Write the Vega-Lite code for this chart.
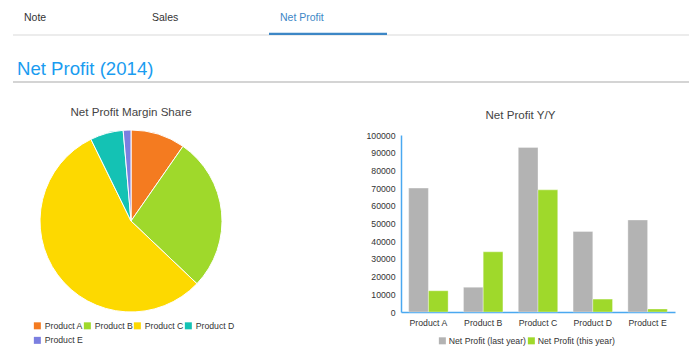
{
  "$schema": "https://vega.github.io/schema/vega-lite/v6.json",
  "padding": {"left": 12, "top": 0, "right": 0, "bottom": 0},
  "background": "#ffffff",
  "config": {
    "font": "Liberation Sans",
    "view": {"stroke": null},
    "axis": {"grid": false},
    "title": {"font": "Liberation Sans", "fontWeight": "normal", "fontSize": 11.6, "color": "#444444"}
  },
  "datasets": {
    "tabs": [
      {"tab": "Note", "state": "inactive"},
      {"tab": "Sales", "state": "inactive"},
      {"tab": "Net Profit", "state": "active"}
    ],
    "heading": [{"heading": "Net Profit (2014)"}],
    "profit": [
      {"product": "Product A", "period": "Net Profit (last year)", "profit": 70000},
      {"product": "Product A", "period": "Net Profit (this year)", "profit": 12000},
      {"product": "Product B", "period": "Net Profit (last year)", "profit": 14000},
      {"product": "Product B", "period": "Net Profit (this year)", "profit": 34000},
      {"product": "Product C", "period": "Net Profit (last year)", "profit": 93000},
      {"product": "Product C", "period": "Net Profit (this year)", "profit": 69000},
      {"product": "Product D", "period": "Net Profit (last year)", "profit": 45500},
      {"product": "Product D", "period": "Net Profit (this year)", "profit": 7300},
      {"product": "Product E", "period": "Net Profit (last year)", "profit": 52000},
      {"product": "Product E", "period": "Net Profit (this year)", "profit": 1700}
    ]
  },
  "resolve": {"scale": {"color": "independent"}, "legend": {"color": "independent"}},
  "spacing": 24,
  "vconcat": [
    {
      "spacing": 19,
      "vconcat": [
        {
          "width": 677,
          "height": 35,
          "data": {"name": "tabs"},
          "layer": [
            {
              "transform": [{"filter": "datum.state == 'active'"}],
              "mark": {"type": "rule", "color": "#d9d9d9", "strokeWidth": 1},
              "encoding": {
                "y": {"datum": 0, "type": "quantitative", "scale": {"domain": [0, 1]}, "axis": null}
              }
            },
            {
              "transform": [{"filter": "datum.state == 'active'"}],
              "mark": {"type": "bar", "color": "#3d87c6"},
              "encoding": {
                "x": {"field": "tab", "type": "nominal", "sort": null,
                      "scale": {"domain": ["Note", "Sales", "Net Profit"], "range": [0, 374], "paddingInner": 0.078125, "paddingOuter": 0},
                      "axis": null},
                "y": {"datum": 0, "type": "quantitative"},
                "y2": {"datum": 0.065}
              }
            },
            {
              "transform": [{"filter": "datum.state == 'inactive'"}],
              "mark": {"type": "text", "align": "left", "dx": 11, "fontSize": 10.5, "color": "#333333"},
              "encoding": {
                "x": {"field": "tab", "type": "nominal", "bandPosition": 0},
                "text": {"field": "tab"}
              }
            },
            {
              "transform": [{"filter": "datum.state == 'active'"}],
              "mark": {"type": "text", "align": "left", "dx": 11, "fontSize": 10.5, "color": "#3d87c6"},
              "encoding": {
                "x": {"field": "tab", "type": "nominal", "bandPosition": 0},
                "text": {"field": "tab"}
              }
            }
          ]
        },
        {
          "width": 677,
          "height": 27,
          "data": {"name": "heading"},
          "layer": [
            {
              "mark": {"type": "rule", "color": "#d4d4d4", "strokeWidth": 2},
              "encoding": {
                "y": {"datum": 0, "type": "quantitative", "scale": {"domain": [0, 1]}, "axis": null}
              }
            },
            {
              "mark": {"type": "text", "align": "left", "dx": 4, "fontSize": 18.6, "color": "#1a9cf0"},
              "encoding": {
                "x": {"datum": 0, "type": "quantitative", "scale": {"domain": [0, 1]}, "axis": null},
                "text": {"field": "heading"}
              }
            }
          ]
        }
      ]
    },
    {
      "spacing": 117,
      "resolve": {"scale": {"color": "independent"}, "legend": {"color": "independent"}},
      "hconcat": [
        {
          "width": 236,
          "height": 172,
          "title": {"text": "Net Profit Margin Share", "offset": 9},
          "data": {"name": "profit"},
          "transform": [{"filter": "datum.period == 'Net Profit (this year)'"}],
          "mark": {"type": "arc", "radius": 91, "stroke": "#ffffff", "strokeWidth": 1},
          "encoding": {
            "theta": {"field": "profit", "type": "quantitative", "stack": true},
            "color": {
              "field": "product", "type": "nominal",
              "scale": {"domain": ["Product A", "Product B", "Product C", "Product D", "Product E"],
                        "range": ["#f47b20", "#9fd92b", "#fdd900", "#14c2b4", "#7b7fe0"]},
              "legend": {"orient": "none", "legendX": 20, "legendY": 186, "direction": "horizontal", "title": null, "columns": 4, "symbolType": "square", "symbolSize": 49,
                         "symbolStrokeWidth": 0, "labelFontSize": 8.7, "labelColor": "#333333", "labelOffset": 3,
                         "columnPadding": 0, "rowPadding": 5}
            }
          }
        },
        {
          "width": 274,
          "height": 177,
          "title": {"text": "Net Profit Y/Y", "offset": 9, "frame": "bounds"},
          "data": {"name": "profit"},
          "mark": {"type": "bar", "stroke": "#ffffff", "strokeOpacity": 0.35, "strokeWidth": 1},
          "encoding": {
            "x": {"field": "product", "type": "nominal",
                  "scale": {"paddingInner": 0.28, "paddingOuter": 0.14},
                  "axis": {"title": null, "labelAngle": 0, "ticks": false, "domainColor": "#4aa8f0", "domainWidth": 1.5,
                           "labelFontSize": 8.7, "labelColor": "#333333", "labelPadding": 6}},
            "xOffset": {"field": "period", "type": "nominal", "sort": ["Net Profit (last year)", "Net Profit (this year)"]},
            "y": {"field": "profit", "type": "quantitative",
                  "scale": {"domain": [0, 100000]},
                  "axis": {"title": null, "tickCount": 10, "ticks": false, "format": "d", "domainColor": "#4aa8f0", "domainWidth": 1.5,
                           "labelFontSize": 8.7, "labelColor": "#333333", "labelPadding": 6}},
            "color": {
              "field": "period", "type": "nominal",
              "scale": {"domain": ["Net Profit (last year)", "Net Profit (this year)"], "range": ["#b3b3b3", "#9fd92b"]},
              "legend": {"orient": "none", "legendX": 37, "legendY": 201, "direction": "horizontal", "title": null, "symbolType": "square", "symbolSize": 49,
                         "symbolStrokeWidth": 0, "labelFontSize": 8.7, "labelColor": "#333333", "labelOffset": 2,
                         "columnPadding": 1}
            }
          }
        }
      ]
    }
  ]
}
